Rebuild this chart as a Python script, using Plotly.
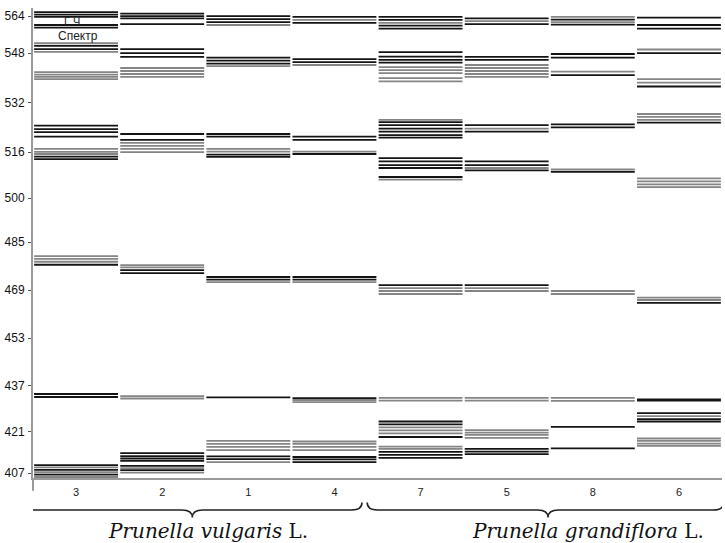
import plotly.graph_objects as go

# Sample (column) labels, left to right
SAMPLES = ["3", "2", "1", "4", "7", "5", "8", "6"]

# Band positions (nm) per sample: dark bands and grey bands
dark_3 = [561.7, 560.9, 560.1, 557.4, 556.5, 550.4, 549.3, 523.7, 522.5, 521.5, 520.0,
          513.3, 512.5, 477.1, 433.8, 432.8, 410.0, 408.4, 406.8]
grey_3 = [551.3, 548.4, 541.6, 540.8, 540.0, 539.3, 515.9, 514.9, 514.2, 480.0, 479.1,
          478.1, 409.2, 407.6, 406.0]

dark_2 = [561.2, 560.4, 559.6, 557.7, 549.3, 548.0, 546.7, 520.9, 518.9, 475.3, 474.3,
          414.0, 413.0, 412.2, 411.4, 409.7, 408.3]
grey_2 = [543.0, 542.0, 541.0, 540.0, 517.9, 516.9, 515.9, 514.8, 477.0, 476.2, 433.1,
          432.3, 409.0, 407.5]

dark_1 = [560.4, 559.4, 558.4, 546.5, 545.5, 544.5, 520.9, 520.0, 514.0, 513.2, 473.0,
          472.1, 432.7, 412.9, 412.0]
grey_1 = [557.4, 543.6, 515.9, 515.0, 471.3, 418.1, 417.1, 416.1, 415.0, 411.0]

dark_4 = [560.1, 558.1, 546.0, 545.0, 520.0, 518.9, 514.2, 473.0, 472.1, 432.4, 412.7,
          411.9, 411.0]
grey_4 = [559.1, 544.0, 515.0, 471.3, 431.8, 431.1, 417.9, 417.1, 416.1, 415.0]

dark_7 = [560.1, 559.1, 557.2, 556.2, 548.3, 546.8, 545.7, 544.8, 524.9, 523.9, 522.7,
          521.7, 520.5, 519.7, 512.8, 511.7, 510.5, 509.5, 506.5, 470.3, 424.6, 423.6,
          419.4, 414.4, 413.4, 412.4]
grey_7 = [558.1, 543.3, 542.3, 541.3, 539.6, 538.5, 525.6, 505.6, 469.3, 468.3, 467.3,
          432.5, 431.6, 422.6, 421.6, 420.6, 416.2, 415.4]

dark_5 = [559.6, 557.7, 546.7, 545.7, 523.9, 521.7, 511.7, 510.5, 508.7, 470.3, 415.4,
          414.5, 413.7]
grey_5 = [558.7, 544.0, 543.0, 542.0, 541.0, 540.0, 522.7, 509.5, 469.3, 468.3, 432.5,
          431.6, 421.7, 420.9, 420.1, 419.1]

dark_8 = [559.2, 557.5, 547.7, 546.5, 540.6, 524.1, 523.1, 508.2, 422.8, 415.6]
grey_8 = [560.1, 558.4, 541.8, 509.0, 468.3, 467.3, 432.5, 431.5]

dark_6 = [559.9, 557.4, 556.2, 548.0, 536.8, 524.7, 464.3, 432.0, 431.6, 427.4, 425.4,
          424.6]
grey_6 = [549.2, 539.3, 538.1, 527.6, 526.6, 525.6, 506.0, 505.0, 504.0, 503.1, 466.1,
          465.3, 426.4, 418.9, 418.1, 417.2, 416.4]

DARK = [dark_3, dark_2, dark_1, dark_4, dark_7, dark_5, dark_8, dark_6]
GREY = [grey_3, grey_2, grey_1, grey_4, grey_7, grey_5, grey_8, grey_6]

# Y-axis tick labels and where they sit on the scale
TICK_TEXT = ["564", "548", "532", "516", "500", "485", "469", "453", "437", "421", "407"]
TICK_POS = [560.4, 548.0, 531.3, 514.8, 499.4, 484.7, 468.6, 452.5, 436.5, 421.1, 407.3]

GROUPS = ["Prunella vulgaris", "Prunella grandiflora"]

HALF = 0.487


def segments(lists):
    xs, ys = [], []
    for i, vals in enumerate(lists):
        for v in vals:
            xs += [i - HALF, i + HALF, None]
            ys += [v, v, None]
    return xs, ys


fig = go.Figure()
gx, gy = segments(GREY)
fig.add_trace(go.Scatter(x=gx, y=gy, mode="lines", line=dict(color="#858585", width=1.8),
                         hoverinfo="skip", showlegend=False))
dx, dy = segments(DARK)
fig.add_trace(go.Scatter(x=dx, y=dy, mode="lines", line=dict(color="#141414", width=1.8),
                         hoverinfo="skip", showlegend=False))

fig.update_layout(
    width=725, height=543,
    margin=dict(l=33, r=3, t=8, b=65),
    paper_bgcolor="white", plot_bgcolor="white",
    font=dict(family="Arial, Liberation Sans, sans-serif", color="#222"),
    xaxis=dict(range=[-0.5, 7.5], tickmode="array", tickvals=list(range(len(SAMPLES))),
               ticktext=SAMPLES, showgrid=False, zeroline=False, showline=True,
               linecolor="#9a9a9a", linewidth=2, ticks="", tickfont=dict(size=11, color="#222"),
               ticklabelstandoff=3),
    yaxis=dict(range=[405.67, 563.1], tickmode="array", tickvals=TICK_POS, ticktext=TICK_TEXT,
               showgrid=False, zeroline=False, showline=True, linecolor="#9a9a9a", linewidth=2,
               ticks="outside", ticklen=3, tickcolor="#555", tickwidth=1,
               ticklabelstandoff=1,
               tickfont=dict(size=12, color="#111")),
)

# y-axis line extends slightly below the x axis
fig.add_shape(type="line", xref="paper", yref="paper", x0=0, x1=0, y0=-0.027, y1=0,
              line=dict(color="#9a9a9a", width=2))

# labels inside the first column
fig.add_annotation(x=-0.05, y=558.9, xref="x", yref="y", text="Г Ч", showarrow=False,
                   font=dict(size=11, color="#222"), xanchor="center", yanchor="middle")
fig.add_annotation(x=0.02, y=553.6, xref="x", yref="y", text="Спектр", showarrow=False,
                   font=dict(size=12, color="#222"), xanchor="center", yanchor="middle")


def brace(x0, xc, x1, y_end, y_mid, y_dip, d=0.12):
    return (f"M {x0},{y_end} Q {x0},{y_mid} {x0 + d},{y_mid} L {xc - d},{y_mid} "
            f"Q {xc},{y_mid} {xc},{y_dip} Q {xc},{y_mid} {xc + d},{y_mid} "
            f"L {x1 - d},{y_mid} Q {x1},{y_mid} {x1},{y_end}")


fig.add_shape(type="path", xref="x", yref="paper",
              path=brace(-0.71, 1.35, 3.32, -0.052, -0.068, -0.084),
              line=dict(color="#222", width=1.6))
fig.add_shape(type="path", xref="x", yref="paper",
              path=brace(3.38, 5.48, 7.52, -0.052, -0.068, -0.084),
              line=dict(color="#222", width=1.6))

fig.add_annotation(x=1.53, y=-0.113, xref="x", yref="paper",
                   text=f"<i>{GROUPS[0]}</i> L.", showarrow=False,
                   font=dict(family="DejaVu Serif", size=20, color="#111"),
                   xanchor="center", yanchor="middle")
fig.add_annotation(x=5.94, y=-0.113, xref="x", yref="paper",
                   text=f"<i>{GROUPS[1]}</i> L.", showarrow=False,
                   font=dict(family="DejaVu Serif", size=20, color="#111"),
                   xanchor="center", yanchor="middle")

fig.write_html("out.html")
